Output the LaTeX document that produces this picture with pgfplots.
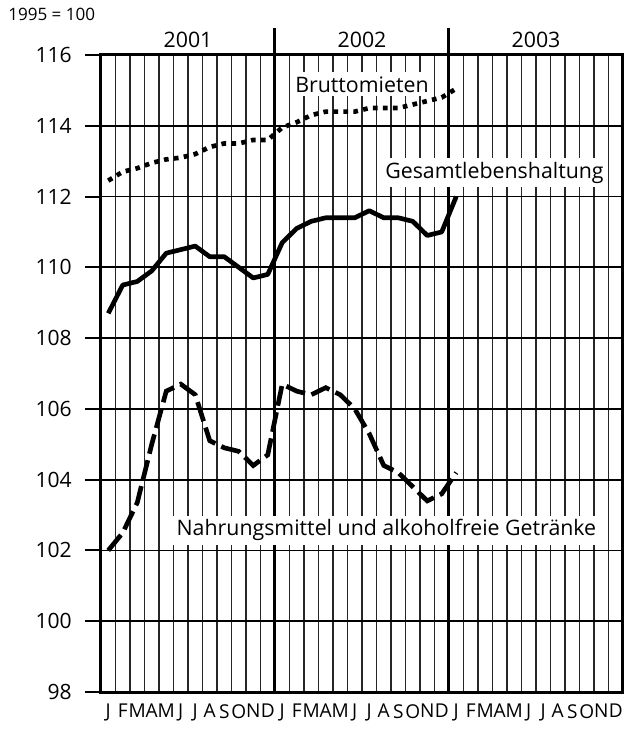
\documentclass[border=0pt]{standalone}
\usepackage{pgfplots}
\pgfplotsset{compat=1.18}
\usepackage{fontspec}
\setmainfont{Open Sans}
\begin{document}
\begin{tikzpicture}[font=\fontsize{16}{19}\selectfont]
\useasboundingbox (-75.75pt,-27.75pt) rectangle (392.25pt,519pt);
\begin{axis}[
 scale only axis, width=391.5pt, height=477.75pt,
 xmin=0, xmax=36, ymin=98, ymax=116,
 axis line style={line width=2.25pt},
 tick align=outside, tick pos=left,
 ytick={98,100,...,116},
 major tick length=12pt,
 ytick style={line width=1.5pt, black},
 ymajorgrids,
 major grid style={line width=1.3pt, black},
 xtick={0.5,1.5,...,35.5},
 xticklabels={J,F,M,A,M,J,J,A,S,O,N,D,J,F,M,A,M,J,J,A,S,O,N,D,J,F,M,A,M,J,J,A,S,O,N,D},
 xtick style={draw=none},
 minor xtick={0,1,...,36},
 xminorgrids,
 minor grid style={line width=0.9pt, black!85},
 minor tick length=7.5pt,
 minor x tick style={line width=0.9pt, black},
 xticklabel style={font=\fontsize{14.3}{16}\selectfont, inner sep=0pt, yshift=3pt},
 yticklabel style={font=\fontsize{15.8}{18}\selectfont, inner sep=0pt, xshift=-9.75pt},
 /pgf/number format/assume math mode=true,
 extra x ticks={12,24},
 extra x tick labels={},
 extra x tick style={grid=major, major grid style={line width=2.25pt, black}, xtick style={draw=none}},
 clip=false,
]
% Bruttomieten
\addplot[black, line width=3.5pt, dash pattern=on 3.5pt off 4pt] coordinates {
(0.5,112.45)(1.5,112.7)(2.5,112.8)(3.5,112.95)(4.5,113.05)(5.5,113.1)(6.5,113.2)(7.5,113.4)(8.5,113.5)(9.5,113.5)(10.5,113.6)(11.5,113.6)
(12.5,113.95)(13.5,114.1)(14.5,114.3)(15.5,114.4)(16.5,114.4)(17.5,114.4)(18.5,114.5)(19.5,114.5)(20.5,114.5)(21.5,114.6)(22.5,114.7)(23.5,114.8)
(24.5,115.05)};
% Gesamtlebenshaltung
\addplot[black, line width=3.5pt, line join=round] coordinates {
(0.5,108.7)(1.5,109.5)(2.5,109.6)(3.5,109.9)(4.5,110.4)(5.5,110.5)(6.5,110.6)(7.5,110.3)(8.5,110.3)(9.5,110.0)(10.5,109.7)(11.5,109.8)
(12.5,110.7)(13.5,111.1)(14.5,111.3)(15.5,111.4)(16.5,111.4)(17.5,111.4)(18.5,111.6)(19.5,111.4)(20.5,111.4)(21.5,111.3)(22.5,110.9)(23.5,111.0)
(24.5,112.0)};
% Nahrungsmittel
\addplot[black, line width=3.5pt, dash pattern=on 15pt off 5pt] coordinates {
(0.5,102.0)(1.5,102.5)(2.5,103.35)(3.5,105.0)(4.5,106.5)(5.5,106.7)(6.5,106.4)(7.5,105.1)(8.5,104.9)(9.5,104.8)(10.5,104.4)(11.5,104.7)
(12.5,106.7)(13.5,106.5)(14.5,106.4)(15.5,106.6)(16.5,106.4)(17.5,106.0)(18.5,105.3)(19.5,104.4)(20.5,104.2)(21.5,103.8)(22.5,103.4)(23.5,103.6)
(24.5,104.2)};
\draw[line width=2.25pt] (axis cs:12,116) -- ++(0pt,20.25pt);
\draw[line width=2.25pt] (axis cs:24,116) -- ++(0pt,20.25pt);
\node[anchor=base, yshift=5.25pt, inner sep=0pt] at (axis cs:6,116) {2001};
\node[anchor=base, yshift=5.25pt, inner sep=0pt] at (axis cs:18,116) {2002};
\node[anchor=base, yshift=5.25pt, inner sep=0pt] at (axis cs:30,116) {2003};
\node[anchor=base west, xshift=-69.75pt, yshift=25.5pt, inner sep=0pt, font=\fontsize{12.8}{14}\selectfont] at (rel axis cs:0,1) {1995 = 100};
\node[anchor=base west, fill=white, inner xsep=2.5pt, inner ysep=3pt, xshift=-2.5pt] at (axis cs:13.38,114.95) {Bruttomieten};
\node[anchor=base west, fill=white, inner xsep=2.5pt, inner ysep=3pt, xshift=-2.5pt] at (axis cs:19.59,112.52) {Gesamtlebenshaltung};
\node[anchor=base west, fill=white, inner xsep=2.5pt, inner ysep=3pt, xshift=-2.5pt] at (axis cs:5.2,102.41) {Nahrungsmittel und alkoholfreie Getränke};
\end{axis}
\end{tikzpicture}
\end{document}
